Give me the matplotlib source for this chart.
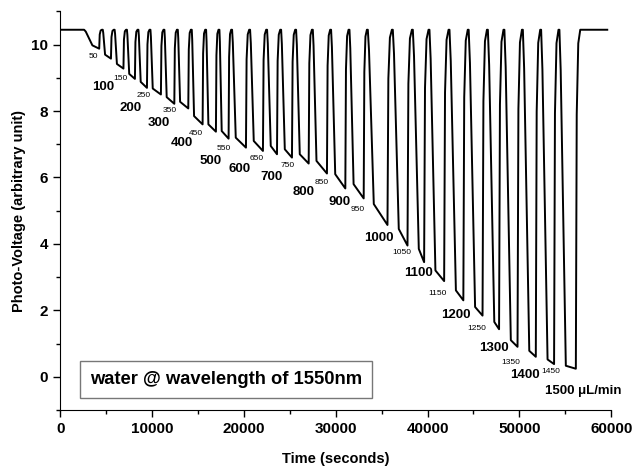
import matplotlib
matplotlib.use('Agg')
import matplotlib.pyplot as plt
from matplotlib.ticker import MultipleLocator
import numpy as np

plt.rcParams['font.family'] = ['Liberation Sans', 'DejaVu Sans']

# flow rates (uL/min) for each dip
flow_rates = [50, 100, 150, 200, 250, 300, 350, 400, 450, 500,
              550, 600, 650, 700, 750, 800, 850, 900, 950, 1000,
              1050, 1100, 1150, 1200, 1250, 1300, 1350, 1400, 1450, 1500]

# time (s) where signal is back to baseline after each dip
top_times = [4540, 5830, 7170, 8420, 9730, 11250, 12710, 14230, 15790, 17240,
             18620, 20580, 22430, 23960, 25590, 27410, 29400, 31400, 33400, 36120,
             38300, 40110, 42290, 44380, 46470, 48270, 50280, 52270, 54260, 56630]

# time (s) where the signal starts to rise at the end of each dip
rise_times = [4250, 5530, 6890, 8140, 9450, 10970, 12430, 13950, 15510, 16960,
              18340, 20230, 22080, 23610, 25240, 27060, 29050, 31050, 33050, 35640,
              37820, 39630, 41810, 43900, 45990, 47790, 49800, 51790, 53780, 56150]

# how long the fast drop takes (s)
drop_durations = [900, 250, 250, 250, 250, 250, 250, 250, 250, 250,
                  250, 400, 400, 400, 400, 400, 400, 450, 450, 650,
                  650, 650, 650, 700, 700, 700, 700, 700, 700, 700]

# value at end of fast drop, and minimum value of each dip
knee_values = [9.98, 9.7, 9.42, 9.12, 8.88, 8.68, 8.42, 8.28, 7.85, 7.6,
               7.4, 7.2, 7.1, 6.95, 6.85, 6.7, 6.5, 6.1, 5.8, 5.2,
               4.45, 3.85, 3.2, 2.6, 2.1, 1.65, 1.1, 0.78, 0.52, 0.33]
min_values = [9.88, 9.58, 9.28, 8.97, 8.7, 8.5, 8.22, 8.08, 7.6, 7.38,
              7.17, 6.9, 6.8, 6.7, 6.6, 6.42, 6.12, 5.67, 5.37, 4.57,
              3.95, 3.45, 2.88, 2.3, 1.84, 1.43, 0.9, 0.6, 0.38, 0.24]

baseline = 10.45
first_drop = 2610
t_end = 59570

# label anchor points (time, voltage)
label_t = [3630, 4720, 6610, 7620, 9070, 10700, 11980, 13250, 14760, 16330,
           17860, 19490, 21400, 22980, 24720, 26460, 28530, 30380, 32450, 34740,
           37240, 38990, 41110, 43120, 45360, 47260, 49110, 50640, 53470]
label_v = [9.63, 8.73, 8.99, 8.10, 8.48, 7.63, 8.03, 7.03, 7.34, 6.50,
           6.86, 6.26, 6.56, 6.02, 6.35, 5.56, 5.85, 5.26, 5.05, 4.18,
           3.73, 3.12, 2.51, 1.87, 1.44, 0.87, 0.44, 0.05, 0.17]

# build the trace vertices (rounded corners at top of drop and rise)
t_pts = [0]
v_pts = [baseline]
prev_top = None
for i in range(len(flow_rates)):
    start = first_drop if prev_top is None else prev_top + 100
    dur = drop_durations[i]
    gap = top_times[i] - rise_times[i]
    depth = baseline - min_values[i]
    t_pts += [start, start + 0.2 * dur, start + dur, rise_times[i],
              rise_times[i] + 0.2 * gap, rise_times[i] + 0.55 * gap, top_times[i]]
    v_pts += [baseline, baseline - 0.12 * (baseline - knee_values[i]), knee_values[i], min_values[i],
              min_values[i] + 0.75 * depth, min_values[i] + 0.96 * depth, baseline]
    prev_top = top_times[i]
t_pts.append(t_end)
v_pts.append(baseline)

fig = plt.figure(figsize=(6.4, 4.69), dpi=100)
ax = fig.add_axes([0.094, 0.126, 0.861, 0.8495])
ax.plot(t_pts, v_pts, color='black', linewidth=1.4, solid_joinstyle='round')

for i, (t, v) in enumerate(zip(label_t, label_v)):
    rate = flow_rates[i]
    if rate % 100 == 0:
        ax.text(t, v, str(rate), fontsize=9.5, weight='bold', ha='center', va='center')
    else:
        ax.text(t, v, str(rate), fontsize=6, ha='center', va='center')
ax.text(52800, -0.42, '1500 \u03bcL/min', fontsize=9.5, weight='bold', ha='left', va='center')

ax.text(0.0544, 0.0763, 'water @ wavelength of 1550nm', transform=ax.transAxes,
        fontsize=13.2, weight='bold', ha='left', va='center',
        bbox=dict(boxstyle='square,pad=0.55', facecolor='white', edgecolor='#777777', linewidth=1))

ax.set_xlim(0, 60000)
ax.set_ylim(-1, 11)
ax.xaxis.set_major_locator(MultipleLocator(10000))
ax.xaxis.set_minor_locator(MultipleLocator(5000))
ax.yaxis.set_major_locator(MultipleLocator(2))
ax.yaxis.set_minor_locator(MultipleLocator(1))
ax.tick_params(which='major', direction='out', length=5, width=1, labelsize=11)
ax.tick_params(which='minor', direction='out', length=3, width=1)
for lab in ax.get_xticklabels() + ax.get_yticklabels():
    lab.set_fontweight('bold')
ax.spines['top'].set_visible(False)
ax.spines['right'].set_visible(False)
ax.set_xlabel('Time (seconds)', fontsize=10.5, weight='bold', labelpad=12)
ax.set_ylabel('Photo-Voltage (arbitrary unit)', fontsize=10.5, weight='bold', labelpad=4)

fig.savefig('out.png', dpi=100)
